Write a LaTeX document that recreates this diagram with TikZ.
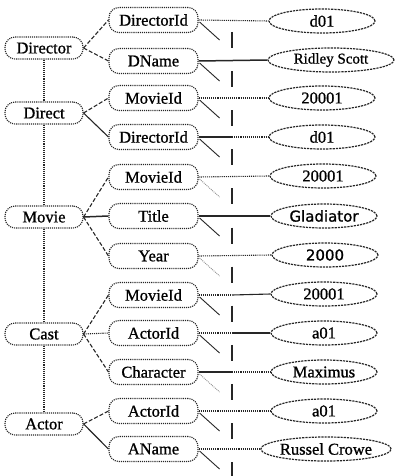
\documentclass[tikz,border=0pt]{standalone}
\usepackage{fontspec}
\setmainfont{Liberation Serif}[BoldFont=Liberation Serif, BoldFeatures={FakeBold=0.9}]
\newfontfamily\valsans{DejaVu Sans}[BoldFont=DejaVu Sans, BoldFeatures={FakeBold=0.9}]
\usetikzlibrary{shapes.geometric}
\begin{document}
\begin{tikzpicture}[x=1pt,y=-1pt,
  ink/.style={draw=black!85, line width=1.1pt},
  outline/.style={ink, densely dotted},
  entity/.style={outline, rounded corners=10pt, minimum width=78pt, minimum height=22pt,
    inner sep=0pt, font=\bfseries\fontsize{16.5}{18}\selectfont},
  attr/.style={outline, rounded corners=10pt, minimum width=89pt, minimum height=25pt,
    inner sep=0pt, font=\bfseries\fontsize{16.5}{18}\selectfont},
  value/.style={ellipse, ink, line width=1.2pt, dash pattern=on 2.2pt off 1pt, minimum width=106pt,
    minimum height=24pt, inner sep=0pt, font=\bfseries\fontsize{16.5}{18}\selectfont},
  solidlink/.style={ink},
  dashlink/.style={ink, dash pattern=on 4pt off 2pt},
  dotlink/.style={ink, densely dotted},
  stub/.style={ink, line width=0.9pt},
  faintstub/.style={draw=black!45, line width=0.9pt, densely dotted},
  guide/.style={ink, line width=1.2pt, dash pattern=on 16pt off 23.1pt}
]
\useasboundingbox (0,0) rectangle (395,476);

% entity sets
\node[entity] (director) at (44,48)  {Director};
\node[entity] (direct)   at (44,113) {Direct};
\node[entity] (movie)    at (44,217) {Movie};
\node[entity] (cast)     at (44,334) {Cast};
\node[entity] (actor)    at (44,424) {Actor};

% attributes
\node[attr] (a1)  at (153.5,20)  {DirectorId};
\node[attr] (a2)  at (153.5,61)  {DName};
\node[attr] (a3)  at (153.5,98)  {MovieId};
\node[attr] (a4)  at (153.5,137) {DirectorId};
\node[attr] (a5)  at (153.5,177) {MovieId};
\node[attr] (a6)  at (153.5,216) {Title};
\node[attr] (a7)  at (153.5,256) {Year};
\node[attr] (a8)  at (153.5,295) {MovieId};
\node[attr] (a9)  at (153.5,333) {ActorId};
\node[attr] (a10) at (153.5,372) {Character};
\node[attr] (a11) at (153.5,411) {ActorId};
\node[attr] (a12) at (153.5,449) {AName};

% values
\node[value] (v1)  at (322,21)  {d01};
\node[value, minimum width=126pt, font=\bfseries\fontsize{15}{17}\selectfont] (v2) at (331,60) {Ridley Scott};
\node[value] (v3)  at (322,98)  {20001};
\node[value] (v4)  at (322,137) {d01};
\node[value] (v5)  at (323,176) {20001};
\node[value, font=\valsans\bfseries\fontsize{15}{17}\selectfont] (v6) at (324,216) {Gladiator};
\node[value, font=\valsans\bfseries\fontsize{15}{17}\selectfont] (v7) at (325,255) {2000};
\node[value] (v8)  at (324,294) {20001};
\node[value] (v9)  at (324,333) {a01};
\node[value] (v10) at (324,372) {Maximus};
\node[value] (v11) at (324,411) {a01};
\node[value, minimum width=104pt] (v12) at (326,449) {Russel Crowe};

% spine joining the entity sets
\draw[dotlink] (director) -- (direct);
\draw[dotlink] (direct) -- (movie);
\draw[dotlink] (movie) -- (cast);
\draw[dotlink] (cast) -- (actor);

% entity set to attribute
\draw[dashlink]  (director.east) -- (a1.west);
\draw[dashlink]  (director.east) -- (a2.west);
\draw[dashlink]  (direct.east)   -- (a3.west);
\draw[solidlink] (direct.east)   -- (a4.west);
\draw[dashlink]  (movie.east)    -- (a5.west);
\draw[solidlink, line width=1.5pt] (movie.east) -- (a6.west);
\draw[dashlink]  (movie.east)    -- (a7.west);
\draw[dashlink]  (cast.east)     -- (a8.west);
\draw[dotlink]   (cast.east)     -- (a9.west);
\draw[dashlink]  (cast.east)     -- (a10.west);
\draw[dashlink]  (actor.east)    -- (a11.west);
\draw[solidlink] (actor.east)    -- (a12.west);

% split points on the divider
\coordinate (m4)  at (232,137);
\coordinate (m8)  at (232,295);
\coordinate (m9)  at (232,333);
\coordinate (m10) at (232,372);

% attribute to value
\draw[dotlink] (a1.east) -- (v1.west);
\draw[solidlink, line width=1.5pt] (a2.east) -- (v2.west);
\draw[dotlink] (a3.east) -- (v3.west);
\draw[solidlink] (a4.east) -- (m4);
\draw[dotlink] (m4) -- (v4.west);
\draw[dotlink] (a5.east) -- (v5.west);
\draw[solidlink, line width=1.3pt] (a6.east) -- (v6.west);
\draw[dotlink] (a7.east) -- (v7.west);
\draw[dotlink] (a8.east) -- (m8);
\draw[solidlink] (m8) -- (v8.west);
\draw[dotlink] (a9.east) -- (m9);
\draw[solidlink] (m9) -- (v9.west);
\draw[solidlink] (a10.east) -- (m10);
\draw[dotlink] (m10) -- (v10.west);
\draw[dotlink] (a11.east) -- (v11.west);
\draw[dotlink] (a12.east) -- (v12.west);

% short strokes below each attribute
\foreach \a in {a1,a2,a3,a4,a6,a8,a9,a11,a12}
  \draw[stub] (\a.east) ++(1,2) -- ++(20,18);
\foreach \a in {a5,a7,a10}
  \draw[faintstub] (\a.east) ++(1,2) -- ++(20,18);

% vertical divider
\coordinate (gtop) at (232,32);
\coordinate (gbot) at (232,476);
\draw[guide] (gtop) -- (gbot);
\end{tikzpicture}
\end{document}
